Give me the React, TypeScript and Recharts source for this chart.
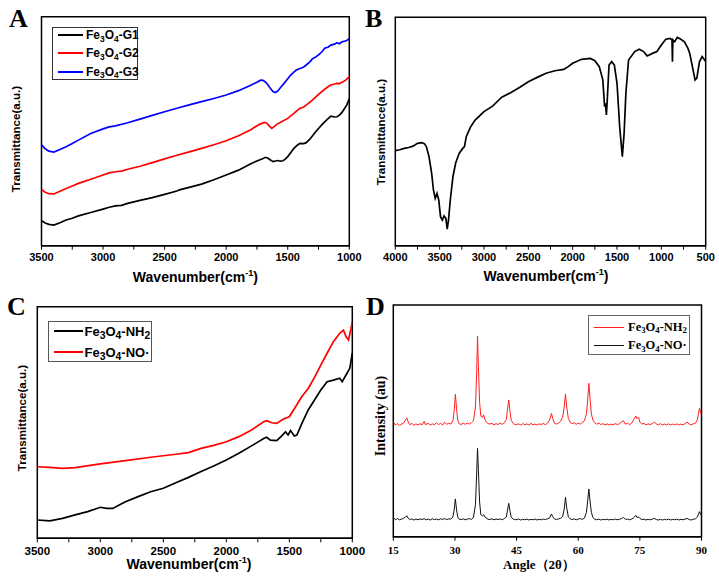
import React from "react";
import { LineChart, Line, XAxis, YAxis, ReferenceArea, Legend } from "recharts";

const SANS = "'Liberation Sans', Arial, sans-serif";
const NARROW = "'Liberation Sans Narrow', 'Arial Narrow', 'Liberation Sans', sans-serif";
const SERIF = "'Liberation Serif', 'Times New Roman', serif";

type Pt = [number, number];

// A: FTIR of the three G samples (wavenumber, relative transmittance 0-100)
const aG1: Pt[] = [
  [3500, 10.9], [3470, 9.9], [3440, 9.3], [3400, 9.0], [3350, 10.0], [3300, 11.2], [3250, 12.0],
  [3200, 13.0], [3100, 14.5], [3000, 16.0], [2950, 16.8], [2900, 17.4], [2850, 17.6], [2800, 18.5],
  [2700, 19.8], [2600, 21.0], [2500, 22.4], [2400, 23.9], [2380, 24.4], [2300, 25.5], [2200, 26.9],
  [2100, 28.8], [2000, 30.9], [1900, 33.0], [1800, 35.8], [1750, 37.0], [1700, 38.1], [1680, 38.6],
  [1660, 38.2], [1640, 37.4], [1620, 36.7], [1600, 37.0], [1580, 37.2], [1560, 36.9], [1540, 37.1],
  [1520, 37.8], [1500, 38.9], [1470, 41.0], [1450, 42.5], [1420, 44.0], [1400, 44.7], [1370, 44.6],
  [1350, 45.0], [1320, 46.5], [1300, 47.9], [1270, 50.0], [1250, 51.2], [1220, 53.0], [1200, 54.1],
  [1170, 55.6], [1150, 56.6], [1120, 56.2], [1100, 56.3], [1080, 57.0], [1060, 58.2], [1040, 59.8],
  [1020, 61.5], [1000, 64.3],
];
const aG2: Pt[] = [
  [3500, 24.6], [3470, 23.3], [3440, 22.7], [3400, 22.6], [3350, 23.8], [3300, 25.0], [3250, 26.1],
  [3200, 27.2], [3100, 29.0], [3000, 30.9], [2950, 31.8], [2900, 32.3], [2850, 32.6], [2800, 33.4],
  [2700, 34.7], [2600, 36.3], [2500, 37.9], [2400, 39.5], [2300, 41.0], [2200, 42.5], [2100, 44.1],
  [2000, 45.8], [1900, 48.0], [1800, 50.6], [1750, 52.4], [1720, 53.2], [1690, 53.8], [1670, 53.5],
  [1650, 52.3], [1630, 51.2], [1610, 52.0], [1590, 53.0], [1550, 54.1], [1500, 55.6], [1450, 57.8],
  [1420, 59.2], [1400, 60.0], [1370, 60.6], [1350, 61.4], [1300, 63.6], [1250, 66.1], [1200, 68.3],
  [1170, 69.5], [1150, 70.2], [1120, 70.6], [1100, 70.9], [1080, 70.8], [1050, 71.6], [1030, 72.3],
  [1000, 73.8],
];
const aG3: Pt[] = [
  [3500, 44.0], [3470, 42.3], [3440, 41.3], [3400, 40.9], [3350, 42.0], [3300, 43.2], [3250, 44.6],
  [3200, 46.1], [3100, 49.0], [3000, 51.0], [2950, 51.9], [2900, 52.3], [2800, 53.7], [2700, 55.3],
  [2600, 56.9], [2500, 58.5], [2400, 60.0], [2300, 61.5], [2200, 62.9], [2100, 64.3], [2000, 65.8],
  [1900, 67.7], [1800, 70.1], [1750, 71.4], [1720, 72.3], [1700, 72.2], [1680, 71.4], [1660, 70.2],
  [1640, 68.6], [1620, 67.3], [1600, 66.9], [1580, 67.6], [1560, 69.0], [1530, 70.9], [1500, 72.9],
  [1480, 74.3], [1450, 75.8], [1430, 76.7], [1400, 77.4], [1370, 78.0], [1350, 78.9], [1320, 80.3],
  [1300, 81.6], [1270, 82.5], [1250, 83.3], [1220, 84.8], [1200, 86.2], [1170, 86.8], [1150, 87.6],
  [1120, 88.0], [1100, 88.6], [1080, 88.2], [1060, 89.0], [1040, 89.3], [1020, 89.6], [1000, 90.5],
];

// B: FTIR of the single sample, 4000-500
const bSpec: Pt[] = [
  [4000, 41.6], [3950, 42.0], [3900, 42.6], [3850, 43.0], [3800, 43.6], [3750, 44.8], [3700, 45.1],
  [3670, 44.6], [3650, 43.4], [3620, 39.0], [3590, 31.7], [3570, 24.4], [3550, 20.7], [3530, 22.9],
  [3510, 20.0], [3490, 12.7], [3470, 11.2], [3450, 13.0], [3430, 12.0], [3415, 7.3], [3400, 11.2],
  [3380, 20.0], [3350, 30.2], [3320, 36.1], [3280, 40.4], [3240, 42.6], [3220, 43.4], [3200, 47.7],
  [3150, 52.1], [3100, 55.0], [3000, 58.7], [2900, 61.2], [2800, 65.0], [2700, 67.0], [2600, 69.3],
  [2500, 71.8], [2400, 73.7], [2300, 75.5], [2200, 76.6], [2100, 77.2], [2050, 78.4], [2000, 79.9],
  [1900, 81.6], [1800, 82.0], [1750, 81.0], [1700, 78.4], [1660, 72.6], [1640, 60.9], [1630, 62.3],
  [1620, 57.2], [1610, 63.8], [1590, 79.1], [1560, 80.6], [1530, 79.1], [1500, 71.1], [1470, 52.1],
  [1440, 39.0], [1420, 49.2], [1400, 66.7], [1370, 81.3], [1300, 85.0], [1250, 86.0], [1200, 85.0],
  [1160, 83.1], [1100, 84.2], [1050, 85.0], [1000, 87.9], [950, 90.4], [900, 90.8], [880, 90.1],
  [875, 80.6], [870, 90.1], [850, 89.3], [820, 91.2], [780, 90.4], [740, 89.3], [700, 86.4],
  [680, 84.2], [650, 78.4], [620, 72.6], [600, 73.4], [570, 80.6], [540, 82.8], [500, 80.6],
];

// C: FTIR of amine and nitroxide samples
const cNH2: Pt[] = [
  [3500, 7.9], [3400, 7.5], [3300, 8.6], [3200, 10.1], [3100, 11.5], [3000, 13.4], [2950, 12.9],
  [2900, 12.9], [2850, 14.4], [2800, 15.8], [2700, 18.0], [2600, 20.1], [2500, 21.6], [2400, 24.0],
  [2300, 26.3], [2200, 28.8], [2100, 31.2], [2000, 33.8], [1900, 36.7], [1800, 39.9], [1700, 43.2],
  [1680, 43.6], [1650, 42.4], [1600, 42.2], [1560, 44.2], [1530, 46.0], [1510, 44.6], [1490, 46.5],
  [1460, 44.2], [1440, 44.6], [1400, 49.6], [1350, 55.4], [1300, 59.7], [1250, 64.0], [1200, 67.6],
  [1150, 68.3], [1100, 69.1], [1080, 67.6], [1050, 70.5], [1020, 73.4], [1000, 79.9],
];
const cNO: Pt[] = [
  [3500, 30.9], [3400, 30.6], [3300, 30.2], [3200, 30.5], [3000, 32.1], [2800, 33.5], [2600, 35.0],
  [2400, 36.3], [2300, 37.0], [2200, 38.8], [2100, 40.1], [2000, 41.7], [1900, 43.9], [1800, 46.8],
  [1700, 50.4], [1680, 50.8], [1640, 49.9], [1600, 49.6], [1550, 51.4], [1500, 52.5], [1450, 56.8],
  [1400, 61.2], [1350, 64.7], [1300, 69.5], [1250, 74.8], [1200, 79.9], [1150, 84.9], [1100, 88.5],
  [1070, 89.9], [1050, 87.1], [1030, 85.6], [1010, 90.6], [1000, 93.5],
];

// D: XRD patterns (2θ, offset intensity)
const dNH2: Pt[] = [
  [15, 49.5], [15.5, 48.2], [16, 48.8], [16.5, 48.0], [17, 48.6], [17.5, 49.0], [18, 50.5], [18.3, 51.3],
  [18.6, 49.6], [19, 48.3], [19.5, 48.9], [20, 48.1], [20.5, 48.7], [21, 48.2], [21.5, 48.8], [22, 48.3],
  [22.5, 49.8], [22.8, 48.4], [23.5, 48.9], [24, 48.2], [24.5, 48.7], [25, 48.3], [25.5, 49.2], [26, 48.4],
  [26.5, 48.9], [27, 48.2], [27.5, 49.4], [28, 48.5], [28.5, 48.9], [29, 48.6], [29.5, 50.0], [29.8, 54.0],
  [30.1, 61.5], [30.4, 55.0], [30.7, 50.0], [31, 48.8], [31.5, 48.4], [32, 49.0], [32.5, 48.5], [33, 49.0],
  [33.5, 48.6], [34, 49.2], [34.5, 50.0], [35, 56.0], [35.3, 72.0], [35.5, 86.6], [35.7, 74.0], [36, 58.0],
  [36.3, 52.0], [36.7, 51.5], [37, 52.6], [37.3, 50.5], [37.8, 49.2], [38.3, 48.6], [39, 48.9], [39.5, 48.3],
  [40, 48.8], [40.5, 48.4], [41, 49.0], [41.5, 48.5], [42, 49.2], [42.5, 50.5], [42.8, 55.0], [43.1, 59.0],
  [43.4, 54.0], [43.7, 50.2], [44.2, 48.8], [44.7, 48.3], [45.5, 48.7], [46, 48.2], [46.5, 48.8], [47, 48.3],
  [47.5, 48.7], [48, 48.2], [48.5, 48.9], [49, 48.3], [49.5, 48.6], [50, 48.2], [50.5, 48.7], [51, 48.4],
  [51.5, 48.9], [52, 48.3], [52.5, 49.0], [53, 50.2], [53.5, 53.2], [53.8, 51.0], [54.2, 49.0], [54.7, 48.6],
  [55.2, 49.0], [55.7, 49.8], [56.2, 51.5], [56.6, 56.0], [56.9, 61.6], [57.2, 56.0], [57.6, 51.0], [58, 49.5],
  [58.5, 48.8], [59, 49.2], [59.5, 48.5], [60, 49.0], [60.5, 48.6], [61, 49.3], [61.5, 50.0], [62, 53.0],
  [62.3, 59.0], [62.6, 66.2], [62.9, 59.0], [63.2, 53.0], [63.6, 50.2], [64, 49.2], [64.5, 48.6], [65, 49.0],
  [65.5, 48.4], [66, 48.8], [66.5, 48.3], [67, 48.7], [67.5, 48.2], [68, 48.6], [68.5, 48.3], [69, 48.8],
  [69.5, 48.4], [70, 48.7], [70.5, 49.5], [71, 50.0], [71.5, 48.6], [72, 48.9], [72.5, 48.4], [73, 49.0],
  [73.5, 50.5], [74, 52.1], [74.3, 51.0], [74.7, 51.5], [75, 49.5], [75.5, 48.6], [76, 48.9], [76.5, 48.3],
  [77, 48.7], [77.5, 48.4], [78, 48.8], [78.5, 49.5], [79, 48.7], [79.5, 48.3], [80, 48.8], [80.5, 48.2],
  [81, 48.6], [81.5, 48.3], [82, 48.7], [82.5, 48.2], [83, 48.6], [83.5, 48.3], [84, 48.7], [84.5, 48.2],
  [85, 48.6], [85.5, 48.3], [86, 48.8], [86.5, 49.5], [87, 48.6], [87.5, 48.3], [88, 48.7], [88.5, 48.9],
  [89, 50.5], [89.5, 55.4], [90, 52.5],
];
const dNO: Pt[] = [
  [15, 8.2], [15.5, 7.4], [16, 7.8], [16.5, 7.3], [17, 7.6], [17.5, 7.9], [18, 8.6], [18.3, 9.0],
  [18.6, 8.0], [19, 7.4], [19.5, 7.7], [20, 7.2], [20.5, 7.6], [21, 7.3], [21.5, 7.7], [22, 7.4],
  [22.5, 7.8], [23, 7.3], [23.5, 7.6], [24, 7.2], [24.5, 7.7], [25, 7.4], [25.5, 7.6], [26, 7.3],
  [26.5, 7.7], [27, 7.5], [27.5, 7.8], [28, 7.4], [28.5, 7.7], [29, 7.6], [29.5, 8.5], [29.8, 11.5],
  [30.1, 16.3], [30.4, 11.5], [30.7, 8.4], [31, 7.6], [31.5, 7.4], [32, 7.7], [32.5, 7.3], [33, 7.6],
  [33.5, 7.8], [34, 7.5], [34.5, 8.2], [35, 14.0], [35.3, 28.0], [35.5, 38.1], [35.7, 29.0], [36, 15.0],
  [36.3, 9.5], [36.7, 9.0], [37, 9.5], [37.3, 8.5], [37.8, 7.8], [38.3, 7.4], [39, 7.7], [39.5, 7.3],
  [40, 7.6], [40.5, 7.4], [41, 7.7], [41.5, 7.3], [42, 7.8], [42.5, 8.5], [42.8, 11.5], [43.1, 14.4],
  [43.4, 11.0], [43.7, 8.3], [44.2, 7.6], [44.7, 7.3], [45.5, 7.6], [46, 7.2], [46.5, 7.5], [47, 7.3],
  [47.5, 7.6], [48, 7.2], [48.5, 7.5], [49, 7.3], [49.5, 7.6], [50, 7.2], [50.5, 7.5], [51, 7.3],
  [51.5, 7.6], [52, 7.4], [52.5, 7.7], [53, 8.0], [53.5, 9.8], [53.8, 8.6], [54.2, 7.7], [54.7, 7.4],
  [55.2, 7.7], [55.7, 7.9], [56.2, 8.6], [56.6, 12.0], [56.9, 17.0], [57.2, 12.5], [57.6, 8.5], [58, 7.8],
  [58.5, 7.4], [59, 7.7], [59.5, 7.3], [60, 7.6], [60.5, 7.8], [61, 7.5], [61.5, 8.0], [62, 10.5],
  [62.3, 15.5], [62.6, 20.6], [62.9, 15.0], [63.2, 10.5], [63.6, 8.2], [64, 7.6], [64.5, 7.3], [65, 7.6],
  [65.5, 7.2], [66, 7.5], [66.5, 7.3], [67, 7.6], [67.5, 7.2], [68, 7.5], [68.5, 7.3], [69, 7.6],
  [69.5, 7.3], [70, 7.5], [70.5, 7.8], [71, 8.3], [71.5, 7.5], [72, 7.6], [72.5, 7.3], [73, 7.6],
  [73.5, 8.2], [74, 9.2], [74.3, 8.3], [74.7, 8.5], [75, 7.9], [75.5, 7.4], [76, 7.6], [76.5, 7.2],
  [77, 7.5], [77.5, 7.3], [78, 7.6], [78.5, 7.9], [79, 7.4], [79.5, 7.2], [80, 7.5], [80.5, 7.2],
  [81, 7.5], [81.5, 7.3], [82, 7.6], [82.5, 7.2], [83, 7.5], [83.5, 7.3], [84, 7.6], [84.5, 7.2],
  [85, 7.5], [85.5, 7.3], [86, 7.6], [86.5, 7.9], [87, 7.4], [87.5, 7.2], [88, 7.5], [88.5, 7.7],
  [89, 8.5], [89.5, 10.8], [90, 9.0],
];

const irTicksA = [1000, 1250, 1500, 1750, 2000, 2250, 2500, 2750, 3000, 3250, 3500];
const irTicksB = [500, 750, 1000, 1250, 1500, 1750, 2000, 2250, 2500, 2750, 3000, 3250, 3500, 3750, 4000];
const xrdTicks = [15, 30, 45, 60, 75, 90];

const toRows = (pts: Pt[]) => pts.map(([x, y]) => ({ x, y }));

// digits right after "e", "O" or "H" are subscripts (Fe3O4, NH2), others are not (G1)
function Formula({ text, scale, drop }: { text: string; scale: number; drop: string }) {
  const parts = text.split(/(\d)/);
  return (
    <>
      {parts.map((p, i) => {
        const prev = i > 0 ? parts[i - 1] : "";
        const isSub = /\d/.test(p) && /[eOH]$/.test(prev);
        return isSub ? (
          <span key={i} style={{ fontSize: `${scale}em`, position: "relative", top: drop }}>{p}</span>
        ) : (
          <span key={i}>{p}</span>
        );
      })}
    </>
  );
}

interface LegendStyle {
  left: number;
  top: number;
  width: number;
  height: number;
  rowGap: number;
  padTop: number;
  lineW: number;
  lineX: number;
  textGap: number;
  font: string;
  size: number;
  weight: number;
  lineStroke: number;
  border: string;
  subScale: number;
}

function LegendBox({ payload, st }: { payload?: any[]; st: LegendStyle }) {
  return (
    <div
      style={{
        width: st.width,
        height: st.height,
        border: `1px solid ${st.border}`,
        boxSizing: "border-box",
        background: "#fff",
        position: "relative",
      }}
    >
      {(payload ?? []).map((e, i) => (
        <div
          key={i}
          style={{
            position: "absolute",
            left: st.lineX,
            top: st.padTop + i * st.rowGap,
            display: "flex",
            alignItems: "center",
            height: 0,
            whiteSpace: "nowrap",
          }}
        >
          <span style={{ display: "inline-block", width: st.lineW, height: st.lineStroke, background: e.color }} />
          <span
            style={{
              marginLeft: st.textGap,
              fontFamily: st.font,
              fontSize: st.size,
              fontWeight: st.weight,
              color: "#000",
              lineHeight: 1,
            }}
          >
            <Formula text={String(e.value)} scale={st.subScale} drop="0.3em" />
          </span>
        </div>
      ))}
    </div>
  );
}

interface Series {
  name: string;
  color: string;
  pts: Pt[];
  width?: number;
}

interface PanelProps {
  left: number;
  top: number;
  width: number;
  height: number;
  margin: { top: number; right: number; bottom: number; left: number };
  axisHeight: number;
  domain: [number, number];
  reversed: boolean;
  ticks: number[];
  labelStep: number;
  tickFont: string;
  tickSize: number;
  tickGap: number;
  series: Series[];
  legend: LegendStyle;
}

function Panel(p: PanelProps) {
  return (
    <div style={{ position: "absolute", left: p.left, top: p.top }}>
      <LineChart width={p.width} height={p.height} margin={p.margin}>
        <XAxis
          type="number"
          dataKey="x"
          domain={p.domain}
          reversed={p.reversed}
          ticks={p.ticks}
          interval={0}
          allowDataOverflow
          tickFormatter={(v: number) => (v % p.labelStep === 0 ? String(v) : "")}
          tick={{ fill: "#000", fontSize: p.tickSize, fontWeight: 700, fontFamily: p.tickFont }}
          tickLine={{ stroke: "#000", strokeWidth: 1 }}
          axisLine={{ stroke: "#000", strokeWidth: 1.5 }}
          tickSize={4}
          tickMargin={p.tickGap}
          height={p.axisHeight}
        />
        <YAxis type="number" domain={[0, 100]} hide allowDataOverflow />
        <ReferenceArea
          x1={p.domain[0]}
          x2={p.domain[1]}
          y1={0}
          y2={100}
          fill="none"
          stroke="#000"
          strokeWidth={1.5}
        />
        {p.series.map((s) => (
          <Line
            key={s.name}
            data={toRows(s.pts)}
            dataKey="y"
            name={s.name}
            type="linear"
            stroke={s.color}
            strokeWidth={s.width ?? 1.7}
            dot={false}
            activeDot={false}
            isAnimationActive={false}
          />
        ))}
        {p.legend.width > 0 && (
          <Legend
            layout="horizontal"
            verticalAlign="middle"
            align="center"
            wrapperStyle={{ left: p.legend.left, top: p.legend.top, width: "auto", height: "auto" }}
            content={(props: any) => <LegendBox payload={props.payload} st={p.legend} />}
          />
        )}
      </LineChart>
    </div>
  );
}

const noLegend: LegendStyle = {
  left: 0, top: 0, width: 0, height: 0, rowGap: 0, padTop: 0, lineW: 0, lineX: 0, textGap: 0,
  font: SANS, size: 0, weight: 400, lineStroke: 0, border: "#000", subScale: 1,
};

function Cm({ x, y, size }: { x: number; y: number; size: number }) {
  return (
    <text x={x} y={y} textAnchor="middle" fontFamily={NARROW} fontWeight={700} fontSize={size} fill="#000">
      Wavenumber(cm
      <tspan fontSize={size * 0.65} dy={-size * 0.4}>-1</tspan>
      <tspan dy={size * 0.4}>)</tspan>
    </text>
  );
}

function YTitle({ x, y, text, font, size }: { x: number; y: number; text: string; font: string; size: number }) {
  return (
    <text
      x={x}
      y={y}
      textAnchor="middle"
      fontFamily={font}
      fontWeight={700}
      fontSize={size}
      fill="#000"
      transform={`rotate(-90 ${x} ${y})`}
    >
      {text}
    </text>
  );
}

export default function App() {
  return (
    <div style={{ position: "absolute", left: 0, top: 0, width: 719, height: 578, background: "#fff", overflow: "hidden" }}>
      <Panel
        left={0}
        top={0}
        width={372}
        height={290}
        margin={{ top: 16.7, right: 22.7, bottom: 0, left: 41.5 }}
        axisHeight={44.3}
        domain={[1000, 3500]}
        reversed
        ticks={irTicksA}
        labelStep={500}
        tickFont={NARROW}
        tickSize={11}
        tickGap={3.6}
        series={[
          { name: "Fe3O4-G1", color: "#000000", pts: aG1 },
          { name: "Fe3O4-G2", color: "#ff0000", pts: aG2 },
          { name: "Fe3O4-G3", color: "#0000ff", pts: aG3 },
        ]}
        legend={{
          left: 51.7, top: 26.7, width: 86, height: 53.3, rowGap: 18.2, padTop: 7.6, lineW: 25, lineX: 5.3,
          textGap: 3, font: SANS, size: 12, weight: 700, lineStroke: 2, border: "#333", subScale: 0.7,
        }}
      />
      <Panel
        left={360}
        top={0}
        width={359}
        height={290}
        margin={{ top: 17.3, right: 13.3, bottom: 0, left: 35.3 }}
        axisHeight={44.3}
        domain={[500, 4000]}
        reversed
        ticks={irTicksB}
        labelStep={500}
        tickFont={NARROW}
        tickSize={11}
        tickGap={3.6}
        series={[{ name: "spectrum", color: "#000000", pts: bSpec }]}
        legend={noLegend}
      />
      <Panel
        left={0}
        top={290}
        width={368}
        height={288}
        margin={{ top: 16.7, right: 15.7, bottom: 0, left: 37.3 }}
        axisHeight={39.7}
        domain={[1000, 3500]}
        reversed
        ticks={irTicksA}
        labelStep={500}
        tickFont={NARROW}
        tickSize={11.5}
        tickGap={4.4}
        series={[
          { name: "Fe3O4-NH2", color: "#000000", pts: cNH2 },
          { name: "Fe3O4-NO·", color: "#ff0000", pts: cNO },
        ]}
        legend={{
          left: 48, top: 31, width: 104, height: 41, rowGap: 21, padTop: 9.3, lineW: 29, lineX: 5,
          textGap: 1.5, font: SANS, size: 13, weight: 700, lineStroke: 2, border: "#555", subScale: 0.8,
        }}
      />
      <Panel
        left={360}
        top={290}
        width={359}
        height={288}
        margin={{ top: 15, right: 17.5, bottom: 0, left: 33.3 }}
        axisHeight={41.3}
        domain={[15, 90]}
        reversed={false}
        ticks={xrdTicks}
        labelStep={15}
        tickFont={SERIF}
        tickSize={11}
        tickGap={5.5}
        series={[
          { name: "Fe3O4-NH2", color: "#ff2020", pts: dNH2, width: 1 },
          { name: "Fe3O4-NO·", color: "#111111", pts: dNO, width: 1 },
        ]}
        legend={{
          left: 228, top: 25, width: 102, height: 40, rowGap: 18.3, padTop: 11, lineW: 30, lineX: 5,
          textGap: 4, font: SERIF, size: 12.5, weight: 700, lineStroke: 1, border: "#666", subScale: 0.7,
        }}
      />
      <svg width={719} height={578} style={{ position: "absolute", left: 0, top: 0, pointerEvents: "none" }}>
        <g fontFamily={SERIF} fontWeight={700} fontSize={26} fill="#000">
          <text x={9} y={27}>A</text>
          <text x={365} y={27}>B</text>
          <text x={7} y={314.5}>C</text>
          <text x={366} y={315}>D</text>
        </g>
        <Cm x={195.4} y={281.5} size={14} />
        <Cm x={546} y={281} size={14} />
        <Cm x={189} y={569} size={14} />
        <text x={539} y={569} textAnchor="middle" fontFamily={SERIF} fontWeight={700} fontSize={13} fill="#000">
          Angle（2θ）
        </text>
        <YTitle x={20} y={139} text="Transmittance(a.u.)" font={SANS} size={11.6} />
        <YTitle x={385} y={132} text="Transmittance(a.u.)" font={SANS} size={11.6} />
        <YTitle x={26} y={418} text="Transmittance(a.u.)" font={SANS} size={11.6} />
        <YTitle x={384.5} y={416} text="Intensity (au)" font={SERIF} size={14} />
      </svg>
    </div>
  );
}
